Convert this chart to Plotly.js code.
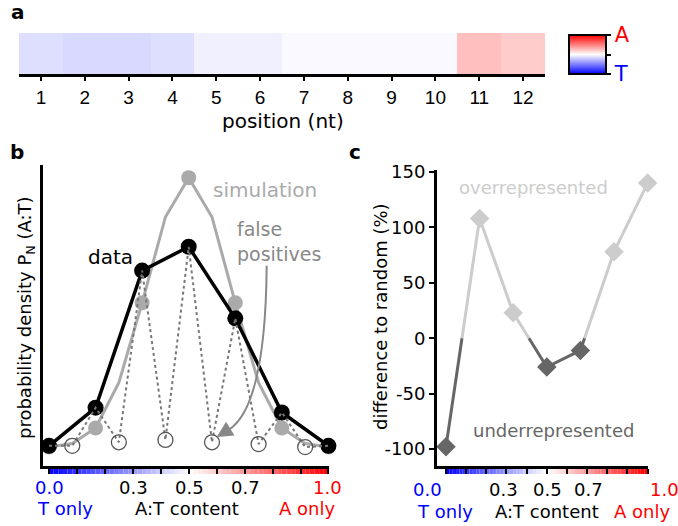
<!DOCTYPE html>
<html>
<head>
<meta charset="utf-8">
<script src="https://cdn.plot.ly/plotly-3.0.1.min.js"></script>
<style>html,body{margin:0;padding:0;background:#fff;}#chart{width:678px;height:526px;}</style>
</head>
<body>
<div id="chart"></div>
<script>
// ---------- data ----------
// panel a: A:T bias per nucleotide position (-1 = T only, +1 = A only)
const positions = [1, 2, 3, 4, 5, 6, 7, 8, 9, 10, 11, 12];
const positionBias = [-0.13, -0.15, -0.15, -0.13, -0.06, -0.06, -0.025, -0.025, -0.025, -0.025, 0.25, 0.2];

// panel b: A:T content bins
const atContent6 = [0, 0.1667, 0.3333, 0.5, 0.6667, 0.8333, 1];
const atContent12 = [0, 0.0833, 0.1667, 0.25, 0.3333, 0.4167, 0.5, 0.5833, 0.6667, 0.75, 0.8333, 0.9167, 1];
const atContentOdd12 = [0.0833, 0.25, 0.4167, 0.5833, 0.75, 0.9167];
const dataDensity = [0.1, 3.3, 14.8, 16.8, 10.8, 2.9, 0.1];
const simDensity = [0.0, 0.3, 1.6, 5.4, 12.1, 19.3, 22.6, 19.3, 12.1, 5.4, 1.6, 0.3, 0.0];
const falsePositiveDensity = [0.1, 0.4, 0.6, 0.4, 0.25, 0.0];

// panel c: difference to random (%)
const diffToRandom = [-98, 108, 23, -26, -11, 78, 140];

// tick labels
const cTickVals = [-100, -50, 0, 50, 100, 150];
const cTickText = ['-100', '-50', '0', '50', '100', '150'];

// ---------- helpers ----------
const W = 678, H = 526;
const px = x => x / W;
const py = y => 1 - y / H;
const BLUE = '#0000ff', RED = '#ff0000';
const LIGHT = '#cccccc', DARK = '#666666';

function bwr(t) {
  let r, g, b;
  if (t <= 0.5) { r = g = Math.round(510 * t); b = 255; }
  else { r = 255; g = b = Math.round(510 * (1 - t)); }
  return `rgb(${r},${g},${b})`;
}

// simulation markers only at the 6th bins (even indices)
const simMarkX = atContent12.filter((_, i) => i % 2 === 0);
const simMarkY = simDensity.filter((_, i) => i % 2 === 0);

// dotted zig-zag: data at even 12ths, false positives at odd 12ths
const zigX = [], zigY = [];
for (let i = 0; i < atContent6.length; i++) {
  zigX.push(atContent6[i]); zigY.push(dataDensity[i]);
  if (i < atContentOdd12.length) { zigX.push(atContentOdd12[i]); zigY.push(falsePositiveDensity[i]); }
}

// split panel c line by sign
function splitBySign(xs, ys) {
  const pos = { x: [], y: [] }, neg = { x: [], y: [] };
  let cur = ys[0] >= 0 ? pos : neg;
  cur.x.push(xs[0]); cur.y.push(ys[0]);
  for (let i = 1; i < xs.length; i++) {
    const a = ys[i - 1], b = ys[i];
    if ((a >= 0) !== (b >= 0)) {
      const xc = xs[i - 1] + (xs[i] - xs[i - 1]) * (a / (a - b));
      cur.x.push(xc); cur.y.push(0); cur.x.push(null); cur.y.push(null);
      cur = b >= 0 ? pos : neg;
      cur.x.push(xc); cur.y.push(0);
    }
    cur.x.push(xs[i]); cur.y.push(b);
  }
  return { pos, neg };
}
const cSplit = splitBySign(atContent6, diffToRandom);

// ---------- traces ----------
const traces = [
  {
    type: 'heatmap', x: positions, y: [0.5], z: [positionBias],
    xaxis: 'x', yaxis: 'y', zmin: -1, zmax: 1,
    colorscale: [[0, BLUE], [0.5, '#ffffff'], [1, RED]],
    hoverinfo: 'skip',
    colorbar: {
      x: px(569), xanchor: 'left', y: py(54.5), yanchor: 'middle',
      len: 39, lenmode: 'pixels', thickness: 37, thicknessmode: 'pixels',
      outlinewidth: 2, outlinecolor: '#000', xpad: 0, ypad: 0,
      ticks: 'outside', ticklen: 4, tickwidth: 2, tickcolor: '#000',
      tickvals: [-1, 0, 1],
      ticktext: ['<span style="color:#0000ff">T</span>', ' ', '<span style="color:#ff0000">A</span>'],
      tickfont: { family: 'DejaVu Sans', size: 21 }
    }
  },
  {
    type: 'scatter', mode: 'lines', x: atContent12, y: simDensity,
    xaxis: 'x2', yaxis: 'y2', line: { color: '#aaaaaa', width: 3 }, hoverinfo: 'skip'
  },
  {
    type: 'scatter', mode: 'markers', x: simMarkX, y: simMarkY,
    xaxis: 'x2', yaxis: 'y2', marker: { color: '#aaaaaa', size: 15 }, cliponaxis: false
  },
  {
    type: 'scatter', mode: 'lines+markers', x: atContent6, y: dataDensity,
    xaxis: 'x2', yaxis: 'y2', line: { color: '#000', width: 3.5 },
    marker: { color: '#000', size: 16 }, cliponaxis: false
  },
  {
    type: 'scatter', mode: 'lines', x: zigX, y: zigY,
    xaxis: 'x2', yaxis: 'y2', line: { color: '#777777', width: 2, dash: 'dot' }, cliponaxis: false
  },
  {
    type: 'scatter', mode: 'markers', x: atContentOdd12, y: falsePositiveDensity,
    xaxis: 'x2', yaxis: 'y2',
    marker: { symbol: 'circle-open', size: 15, color: '#555555', line: { color: '#555555', width: 1.3 } },
    cliponaxis: false
  },
  {
    type: 'scatter', mode: 'lines', x: cSplit.pos.x, y: cSplit.pos.y,
    xaxis: 'x3', yaxis: 'y3', line: { color: LIGHT, width: 3 }, connectgaps: false
  },
  {
    type: 'scatter', mode: 'lines', x: cSplit.neg.x, y: cSplit.neg.y,
    xaxis: 'x3', yaxis: 'y3', line: { color: DARK, width: 3 }, connectgaps: false
  },
  {
    type: 'scatter', mode: 'markers', x: atContent6, y: diffToRandom,
    xaxis: 'x3', yaxis: 'y3', cliponaxis: false,
    marker: { symbol: 'diamond', size: 15, color: diffToRandom.map(v => v >= 0 ? LIGHT : DARK) }
  }
];

// ---------- gradient bars under the x axes of b and c ----------
const shapes = [];
const NSEG = 60;
['x2', 'x3'].forEach(xr => {
  for (let i = 0; i < NSEG; i++) {
    shapes.push({
      type: 'rect', xref: xr, yref: 'paper', layer: 'below',
      x0: i / NSEG, x1: (i + 1) / NSEG, y0: py(474), y1: py(468.5),
      fillcolor: bwr((i + 0.5) / NSEG), line: { width: 0 }
    });
  }
});
// curved arrow for "false positives"
shapes.push({
  type: 'path', xref: 'x2', yref: 'y2', layer: 'above',
  path: 'M 0.779 15.2 Q 0.775 3.4 0.643 1.45',
  line: { color: '#888888', width: 2 }
});

// ---------- annotations ----------
const ann = [];
function txt(text, x, y, size, color, opts) {
  ann.push(Object.assign({
    text, x: px(x), y: py(y), xref: 'paper', yref: 'paper',
    showarrow: false, xanchor: 'center', yanchor: 'middle',
    font: { family: 'DejaVu Sans', size, color }
  }, opts || {}));
}
txt('<b>a</b>', 18, 12, 20, '#000');
txt('<b>b</b>', 17, 152, 20, '#000');
txt('<b>c</b>', 355, 152, 20, '#000');
txt('position (nt)', 283, 121, 20, '#000');
txt('probability density P<sub>N</sub> (A:T)', 26, 318, 18, '#000', { textangle: -90 });
txt('difference to random (%)', 380, 317, 18, '#000', { textangle: -90 });
txt('data', 110, 257, 20, '#000');
txt('simulation', 265, 190, 20, '#aaaaaa');
txt('false<br>positives', 235, 241, 19, '#888888', { xanchor: 'left', align: 'left' });
txt('overrepresented', 533, 187, 18, LIGHT);
txt('underrepresented', 553, 430, 18, DARK);
// x tick labels & captions, panel b
txt('0.0', 49, 487, 18, BLUE);
txt('0.3', 133, 487, 18, '#000');
txt('0.5', 189, 487, 18, '#000');
txt('0.7', 245, 487, 18, '#000');
txt('1.0', 327, 487, 18, RED);
txt('T only', 65, 508, 18, BLUE);
txt('A:T content', 187, 508, 18, '#000');
txt('A only', 307, 508, 18, RED);
// x tick labels & captions, panel c
txt('0.0', 427, 489, 18, BLUE);
txt('0.3', 503, 489, 18, '#000');
txt('0.5', 547, 489, 18, '#000');
txt('0.7', 588, 489, 18, '#000');
txt('1.0', 664, 489, 18, RED);
txt('T only', 445, 511, 18, BLUE);
txt('A:T content', 547, 511, 18, '#000');
txt('A only', 642, 511, 18, RED);
// arrowhead for false positives
ann.push({
  x: 0.6, y: 0.84, xref: 'x2', yref: 'y2', text: '', showarrow: true,
  ax: 13, ay: -8, arrowhead: 2, arrowsize: 1.6, arrowwidth: 2, arrowcolor: '#888888', standoff: 0
});

// ---------- layout ----------
const tickAxis = {
  showgrid: false, zeroline: false, showline: true, linecolor: '#000', linewidth: 3,
  ticks: 'outside', ticklen: 5, tickwidth: 2, tickcolor: '#000', fixedrange: true
};
const layout = {
  width: W, height: H, margin: { l: 0, r: 0, t: 0, b: 0 },
  paper_bgcolor: '#fff', plot_bgcolor: 'rgba(0,0,0,0)', showlegend: false,
  font: { family: 'DejaVu Sans', color: '#000' },
  xaxis: Object.assign({}, tickAxis, {
    domain: [px(19), px(545)], range: [0.5, 12.5], anchor: 'y',
    tickvals: positions, ticklen: 4, ticks: 'outside',
    tickfont: { family: 'Liberation Sans', size: 19 }
  }),
  yaxis: { domain: [py(74), py(33)], range: [0, 1], visible: false, fixedrange: true },
  xaxis2: Object.assign({}, tickAxis, {
    domain: [px(43), px(329)], range: [-0.0214, 1.002], anchor: 'y2',
    tick0: 0, dtick: 0.1, showticklabels: false
  }),
  yaxis2: Object.assign({}, tickAxis, {
    domain: [py(466), py(165)], range: [-1.59, 23.66], anchor: 'x2',
    ticks: '', showticklabels: false
  }),
  xaxis3: Object.assign({}, tickAxis, {
    domain: [px(437), px(648)], range: [-0.0446, 1.002], anchor: 'y3',
    tick0: 0, dtick: 0.1, showticklabels: false
  }),
  yaxis3: Object.assign({}, tickAxis, {
    domain: [py(466), py(170)], range: [-115.3, 151.8], anchor: 'x3',
    tickvals: cTickVals, ticktext: cTickText,
    tickfont: { family: 'DejaVu Sans', size: 18 }
  }),
  shapes, annotations: ann
};

Plotly.newPlot('chart', traces, layout, { staticPlot: true, displayModeBar: false });
</script>
</body>
</html>
